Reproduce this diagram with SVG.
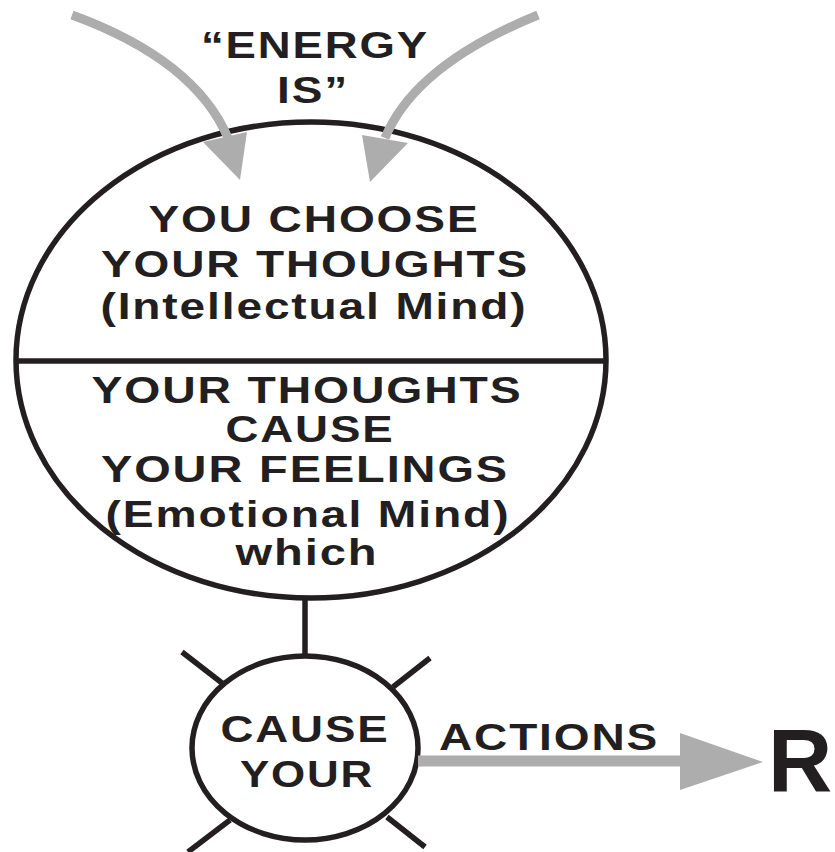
<svg xmlns="http://www.w3.org/2000/svg" width="835" height="852" viewBox="0 0 835 852">
<style>
.t{font-family:"Liberation Sans",Arial,sans-serif;font-weight:bold;fill:#231f20;text-anchor:middle;font-size:37px;letter-spacing:1.5px}
.k{fill:none;stroke:#231f20;stroke-width:5.5}
.g{fill:none;stroke:#adadad;stroke-width:9}
.gh{fill:#adadad}
</style>
<rect width="835" height="852" fill="#fff"/>
<g id="title">
<text class="t" x="315" y="58" textLength="228" lengthAdjust="spacingAndGlyphs">“ENERGY</text>
<text class="t" x="313" y="103" textLength="72" lengthAdjust="spacingAndGlyphs">IS”</text>
</g>
<g id="mind">
<ellipse class="k" cx="311" cy="360" rx="295" ry="238"/>
<line class="k" x1="16" y1="361" x2="606" y2="361" stroke-width="6"/>
<text class="t" x="314" y="232" textLength="331" lengthAdjust="spacingAndGlyphs">YOU CHOOSE</text>
<text class="t" x="315" y="277" textLength="428" lengthAdjust="spacingAndGlyphs">YOUR THOUGHTS</text>
<text class="t" x="314" y="319" textLength="427" lengthAdjust="spacingAndGlyphs">(Intellectual Mind)</text>
<text class="t" x="307" y="403" textLength="431" lengthAdjust="spacingAndGlyphs">YOUR THOUGHTS</text>
<text class="t" x="310" y="442" textLength="169" lengthAdjust="spacingAndGlyphs">CAUSE</text>
<text class="t" x="305" y="482" textLength="408" lengthAdjust="spacingAndGlyphs">YOUR FEELINGS</text>
<text class="t" x="308" y="527" textLength="405" lengthAdjust="spacingAndGlyphs">(Emotional Mind)</text>
<text class="t" x="307" y="565" textLength="143" lengthAdjust="spacingAndGlyphs">which</text>
</g>
<g id="cause">
<ellipse class="k" cx="305" cy="748" rx="113" ry="92"/>
<line class="k" x1="182" y1="652" x2="222" y2="683"/>
<line class="k" x1="430" y1="658" x2="393" y2="687"/>
<line class="k" x1="230" y1="820" x2="188" y2="852"/>
<line class="k" x1="387" y1="817" x2="425" y2="847"/>
<text class="t" x="305" y="742" textLength="169" lengthAdjust="spacingAndGlyphs">CAUSE</text>
<text class="t" x="307" y="787" textLength="134" lengthAdjust="spacingAndGlyphs">YOUR</text>
</g>
<g id="result">
<text x="768" y="791" font-family="'Liberation Sans',Arial,sans-serif" font-weight="bold" font-size="89" fill="#231f20">R</text>
</g>
<g id="connectors">
<line class="k" x1="305" y1="598" x2="305" y2="656"/>
<path class="g" d="M72,15 Q195,60 228,138"/>
<polygon class="gh" points="203,142 247,132 240,180"/>
<path class="g" d="M538,15 Q415,65 385,138"/>
<polygon class="gh" points="362,135 408,143 370,182"/>
<line x1="418" y1="761" x2="682" y2="761" stroke="#adadad" stroke-width="11"/>
<polygon class="gh" points="680,733 763,762 680,790"/>
<text class="t" x="549" y="750" textLength="220" lengthAdjust="spacingAndGlyphs">ACTIONS</text>
</g>
</svg>
